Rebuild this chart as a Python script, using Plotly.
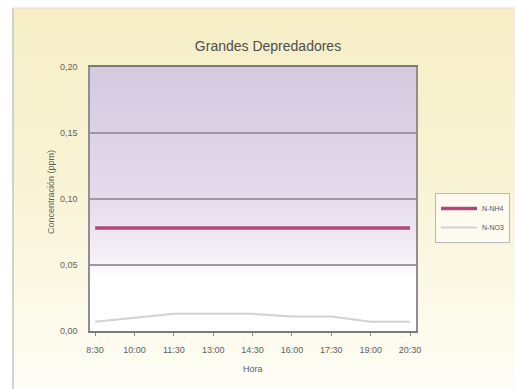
import plotly.graph_objects as go

# Sampling times and concentrations (ppm)
horas = ["8:30", "10:00", "11:30", "13:00", "14:30", "16:00", "17:30", "19:00", "20:30"]
n_nh4 = [0.078, 0.078, 0.078, 0.078, 0.078, 0.078, 0.078, 0.078, 0.078]
n_no3 = [0.007, 0.010, 0.013, 0.013, 0.013, 0.011, 0.011, 0.007, 0.007]
y_ticks = [0.00, 0.05, 0.10, 0.15, 0.20]

W, H = 515, 389
L, R, T, B = 90, 416, 67, 331          # plot area in pixels
pw, ph = R - L, B - T


def px_x(p):
    return (p - L) / pw


def px_y(p):
    return (B - p) / ph


def lerp(stops, t):
    for (t0, c0), (t1, c1) in zip(stops, stops[1:]):
        if t <= t1:
            f = 0 if t1 == t0 else (t - t0) / (t1 - t0)
            return "rgb(%d,%d,%d)" % tuple(round(a + (b - a) * f) for a, b in zip(c0, c1))
    return "rgb(%d,%d,%d)" % stops[-1][1]


shapes = []

# chart background: cream gradient
outer_stops = [(0.0, (246, 238, 198)), (0.45, (249, 243, 212)), (0.8, (252, 250, 234)), (1.0, (254, 253, 246))]
top, bot = 8, H
n = 40
for i in range(n):
    y0 = top + (bot - top) * i / n
    y1 = top + (bot - top) * (i + 1) / n + 0.5
    shapes.append(dict(type="rect", xref="paper", yref="paper", layer="below",
                       x0=px_x(13), x1=px_x(W + 2), y0=px_y(y0), y1=px_y(y1),
                       fillcolor=lerp(outer_stops, (i + 0.5) / n), line_width=0))
shapes.append(dict(type="line", xref="paper", yref="paper", layer="below",
                   x0=px_x(13), x1=px_x(13), y0=px_y(8), y1=px_y(H + 2),
                   line=dict(color="#c4c4c0", width=1.5)))
shapes.append(dict(type="line", xref="paper", yref="paper", layer="below",
                   x0=px_x(13), x1=px_x(W + 2), y0=px_y(8), y1=px_y(8),
                   line=dict(color="#e2ddc8", width=1)))

# plot area: lavender fading to white
inner_stops = [(0.0, (212, 202, 224)), (0.5, (229, 219, 236)), (0.72, (245, 240, 247)),
               (0.8, (255, 255, 255)), (1.0, (255, 255, 255))]
m = 50
for i in range(m):
    shapes.append(dict(type="rect", xref="x domain", yref="y domain", layer="below",
                       x0=0, x1=1, y0=1 - i / m, y1=1 - (i + 1) / m - 0.002,
                       fillcolor=lerp(inner_stops, (i + 0.5) / m), line_width=0))

fig = go.Figure()
fig.add_trace(go.Scatter(x=horas, y=n_nh4, mode="lines", name="N-NH4",
                         line=dict(color="#b2477a", width=3.5)))
fig.add_trace(go.Scatter(x=horas, y=n_no3, mode="lines", name="N-NO3",
                         line=dict(color="#d2d2d6", width=2)))

font = "Liberation Sans, Arial, sans-serif"
fig.update_layout(
    width=W, height=H,
    margin=dict(l=L, r=W - R, t=T, b=H - B, autoexpand=False),
    paper_bgcolor="white",
    plot_bgcolor="rgba(0,0,0,0)",
    shapes=shapes,
    title=dict(text="Grandes Depredadores", x=px_x(268), xref="paper", xanchor="center",
               y=1 - 46 / H, yref="container", yanchor="middle",
               font=dict(family=font, size=14, color="#4e4e4e")),
    xaxis=dict(type="category", range=[-0.13, 8.15], showgrid=False,
               showline=True, linecolor="#7a7a7a", linewidth=2, mirror=True,
               ticks="outside", ticklen=3, tickcolor="#8a8a8a",
               tickfont=dict(family=font, size=9, color="#5e5e5e"),
               ticklabelstandoff=6),
    yaxis=dict(range=[0, 0.2], tickvals=y_ticks, tickformat=".2f",
               showgrid=True, gridcolor="#9c98a4", gridwidth=1.5,
               zeroline=False, showline=True, linecolor="#8e8e94", linewidth=1.5, mirror=True,
               ticks="", tickfont=dict(family=font, size=9, color="#64645a"),
               ticklabelstandoff=9),
    separators=",.",
    legend=dict(x=px_x(435), y=px_y(193), xanchor="left", yanchor="top",
                bgcolor="#fdfbf0", bordercolor="#b8b8b8", borderwidth=1,
                font=dict(family=font, size=7, color="#555555"),
                tracegroupgap=0, itemwidth=36),
    annotations=[
        dict(text="Concentración (ppm)", textangle=-90, xref="paper", yref="paper",
             x=px_x(44), y=px_y(192), showarrow=False,
             font=dict(family=font, size=9, color="#5e5e5e")),
        dict(text="Hora", xref="paper", yref="paper", x=px_x(253), y=px_y(376),
             showarrow=False, font=dict(family=font, size=9, color="#5e5e5e")),
    ],
    showlegend=True,
)

fig.write_html("out.html")
